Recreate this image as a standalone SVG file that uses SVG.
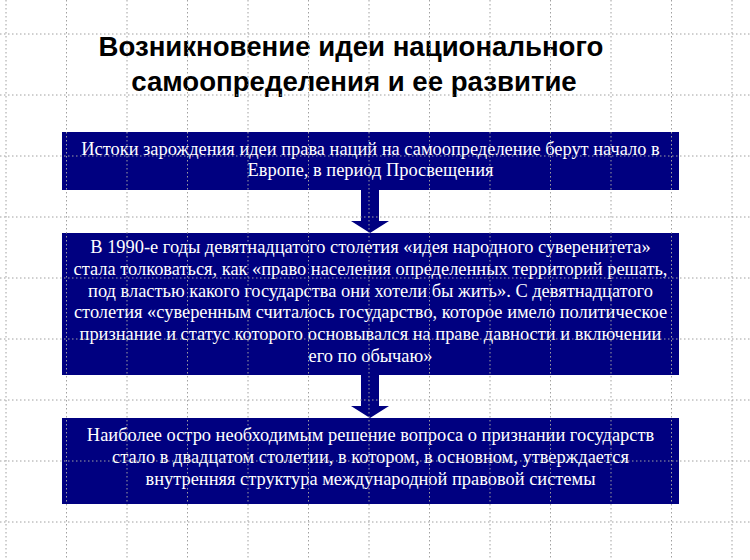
<svg xmlns="http://www.w3.org/2000/svg" width="750" height="560" viewBox="0 0 750 560">
<style>
.box{fill:#000080;}
.arrow{fill:#000080;}
.t{font-family:"Liberation Serif","Times New Roman",serif;font-size:18.4px;fill:#ffffff;text-anchor:middle;}
.title{font-family:"Liberation Sans",Arial,sans-serif;font-size:27.6px;font-weight:bold;fill:#000000;text-anchor:middle;}
.grid line{stroke:#a0a0a0;stroke-width:1;stroke-dasharray:1.5 2.5;}
</style>
<rect width="750" height="560" fill="#ffffff"/>
<g id="title">
<text class="title" x="351" y="56">Возникновение идеи национального</text>
<text class="title" x="354" y="91">самоопределения и ее развитие</text>
</g>
<g id="connectors">
<polygon class="arrow" points="361,189 379,189 379,221 389,221 370,233 351,221 361,221"/>
<polygon class="arrow" points="361,374 379,374 379,406 389,406 370,418 351,406 361,406"/>
</g>
<g id="node1">
<rect class="box" x="62" y="132" width="617" height="58"/>
<text class="t" x="370.5" y="155">Истоки зарождения идеи права наций на самоопределение берут начало в</text>
<text class="t" x="370.5" y="176">Европе, в период Просвещения</text>
</g>
<g id="node2">
<rect class="box" x="62" y="233" width="617" height="142"/>
<text class="t" x="370.5" y="253">В 1990-е годы девятнадцатого столетия «идея народного суверенитета»</text>
<text class="t" x="370.5" y="275">стала толковаться, как «право населения определенных территорий решать,</text>
<text class="t" x="370.5" y="297">под властью какого государства они хотели бы жить». С девятнадцатого</text>
<text class="t" x="370.5" y="318">столетия «суверенным считалось государство, которое имело политическое</text>
<text class="t" x="370.5" y="340">признание и статус которого основывался на праве давности и включении</text>
<text class="t" x="370.5" y="362">его по обычаю»</text>
</g>
<g id="node3">
<rect class="box" x="62" y="418" width="617" height="86"/>
<text class="t" x="370.5" y="441">Наиболее остро необходимым решение вопроса о признании государств</text>
<text class="t" x="370.5" y="463">стало в двадцатом столетии, в котором, в основном, утверждается</text>
<text class="t" x="370.5" y="485">внутренняя структура международной правовой системы</text>
</g>
<g class="grid">
<line x1="6" y1="0" x2="6" y2="560"/>
<line x1="66.5" y1="0" x2="66.5" y2="560"/>
<line x1="127" y1="0" x2="127" y2="560"/>
<line x1="187.5" y1="0" x2="187.5" y2="560"/>
<line x1="248" y1="0" x2="248" y2="560"/>
<line x1="308.5" y1="0" x2="308.5" y2="560"/>
<line x1="369" y1="0" x2="369" y2="560"/>
<line x1="429.5" y1="0" x2="429.5" y2="560"/>
<line x1="490" y1="0" x2="490" y2="560"/>
<line x1="550.5" y1="0" x2="550.5" y2="560"/>
<line x1="611" y1="0" x2="611" y2="560"/>
<line x1="671.5" y1="0" x2="671.5" y2="560"/>
<line x1="732" y1="0" x2="732" y2="560"/>
<line x1="0" y1="34" x2="750" y2="34"/>
<line x1="0" y1="95" x2="750" y2="95"/>
<line x1="0" y1="156" x2="750" y2="156"/>
<line x1="0" y1="217" x2="750" y2="217"/>
<line x1="0" y1="278" x2="750" y2="278"/>
<line x1="0" y1="339" x2="750" y2="339"/>
<line x1="0" y1="400" x2="750" y2="400"/>
<line x1="0" y1="461" x2="750" y2="461"/>
<line x1="0" y1="522" x2="750" y2="522"/>
</g>
</svg>
